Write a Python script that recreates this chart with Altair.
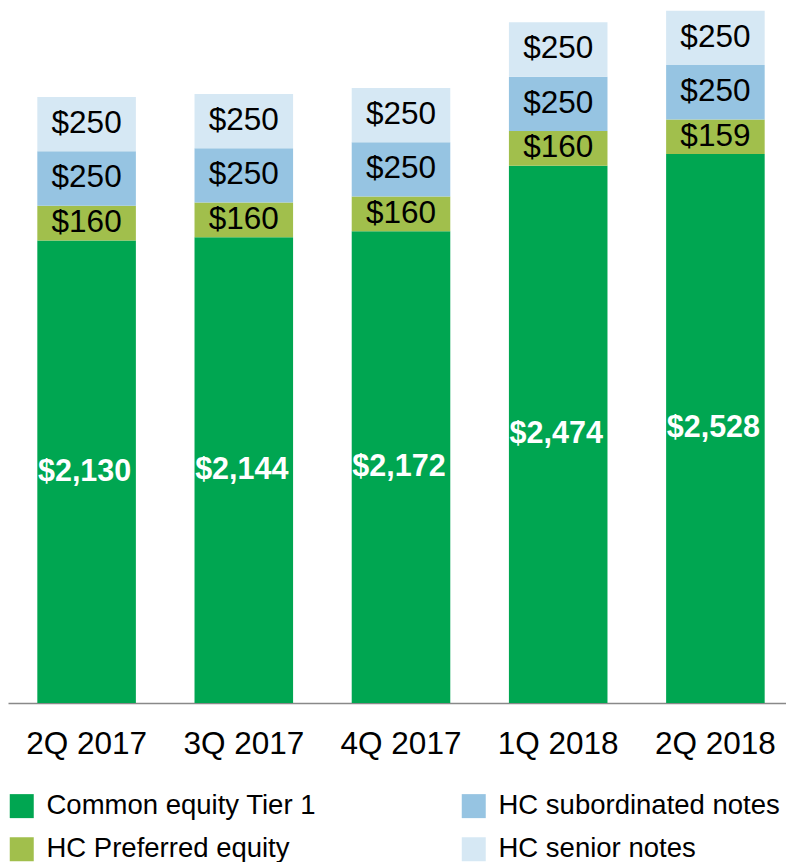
import altair as alt
import pandas as pd

quarters = ["2Q 2017", "3Q 2017", "4Q 2017", "1Q 2018", "2Q 2018"]
common_equity = [2130, 2144, 2172, 2474, 2528]
preferred_equity = [160, 160, 160, 160, 159]
subordinated_notes = [250, 250, 250, 250, 250]
senior_notes = [250, 250, 250, 250, 250]

series_names = ["Common equity Tier 1", "HC Preferred equity",
                "HC subordinated notes", "HC senior notes"]
series_values = [common_equity, preferred_equity, subordinated_notes, senior_notes]
series_colors = ["#00A651", "#A1BF4C", "#96C4E2", "#D6E8F4"]

rows = []
for si, (name, vals) in enumerate(zip(series_names, series_values)):
    for q, v in zip(quarters, vals):
        rows.append({"quarter": q, "series": name, "value": v, "order": si,
                     "label": "${:,}".format(v)})
df = pd.DataFrame(rows)

FONT = "Liberation Sans"

base = alt.Chart(df)

bars = base.mark_bar().encode(
    x=alt.X("quarter:N", sort=quarters, title=None,
            scale=alt.Scale(paddingInner=0.373, paddingOuter=0.1865),
            axis=alt.Axis(labelAngle=0, labelFontSize=31.5, labelFont=FONT,
                          labelColor="#000000", ticks=False, tickSize=0,
                          labelPadding=25, domainColor="#898989",
                          domainWidth=1.5, grid=False)),
    y=alt.Y("value:Q", stack="zero", title=None,
            scale=alt.Scale(domain=[0, 3200], nice=False), axis=None),
    color=alt.Color("series:N", title=None,
                    scale=alt.Scale(domain=series_names, range=series_colors),
                    legend=alt.Legend(orient="none", legendX=0, legendY=784,
                                      columns=2, columnPadding=144,
                                      rowPadding=14.5, symbolType="square",
                                      symbolSize=576, symbolStrokeWidth=0,
                                      labelFontSize=27.5, labelFont=FONT,
                                      labelColor="#000000", labelLimit=500,
                                      labelOffset=11, padding=0)),
    order=alt.Order("order:Q", sort="ascending"),
)

labels_df = base.transform_window(
    cum="sum(value)", groupby=["quarter"], sort=[alt.SortField("order")]
).transform_calculate(mid="datum.cum - datum.value / 2")

white_text = labels_df.transform_filter("datum.order == 0").mark_text(
    fontSize=30.5, font=FONT, fontWeight="bold", color="#FFFFFF", baseline="middle",
    dx=-2
).encode(
    x=alt.X("quarter:N", sort=quarters),
    y=alt.Y("mid:Q"),
    text="label:N",
)

black_text = labels_df.transform_filter("datum.order > 0").mark_text(
    fontSize=31.5, font=FONT, color="#000000", baseline="middle"
).encode(
    x=alt.X("quarter:N", sort=quarters),
    y=alt.Y("mid:Q"),
    text="label:N",
)

chart = alt.layer(bars, white_text, black_text).properties(
    width=786, height=695,
    autosize=alt.AutoSizeParams(type="none"),
    padding={"left": 0, "top": 0, "right": -8, "bottom": 159},
).configure_view(stroke=None)

chart.save("out.html", embed_options={"renderer": "svg", "actions": False})
